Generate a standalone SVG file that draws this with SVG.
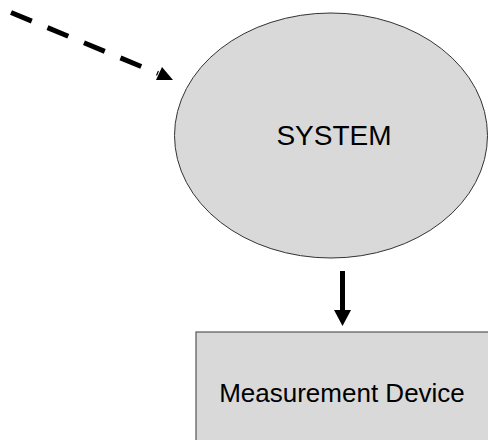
<svg xmlns="http://www.w3.org/2000/svg" width="488" height="440" viewBox="0 0 488 440">
<style>
.shape{fill:#d9d9d9;stroke:#333;stroke-width:1}
.box{fill:#d9d9d9;stroke:#555;stroke-width:1.2}
.lbl{font-family:"Liberation Sans",Arial,sans-serif;fill:#000;text-anchor:middle}
.conn{stroke:#000;fill:none}
.head{fill:#000;stroke:none}
</style>
<rect width="488" height="440" fill="#fff"/>
<g id="system">
<ellipse class="shape" cx="331" cy="135.5" rx="156.5" ry="122.5"/>
<text class="lbl" x="334" y="145" font-size="28">SYSTEM</text>
</g>
<g id="measurement-device">
<rect class="box" x="196" y="332" width="300" height="120"/>
<text class="lbl" x="342" y="402" font-size="26">Measurement Device</text>
</g>
<g id="connectors">
<line class="conn" x1="11" y1="12.5" x2="158" y2="73.5" stroke-width="5" stroke-dasharray="22.5 17"/>
<polygon class="head" points="173,80 156,80 162,67"/>
<line class="conn" x1="342.5" y1="271" x2="342.5" y2="311" stroke-width="5"/>
<polygon class="head" points="334,310 351,310 342.5,326"/>
</g>
</svg>
